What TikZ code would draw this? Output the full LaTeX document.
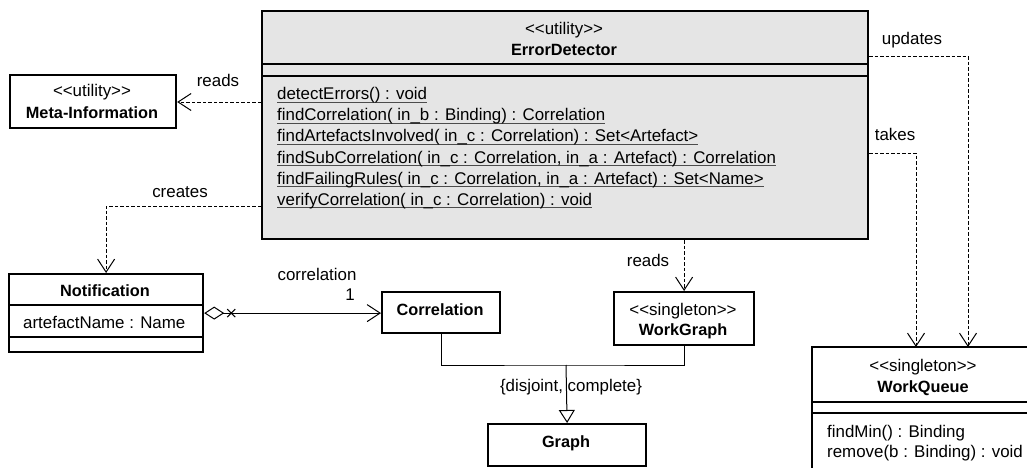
\documentclass[tikz,border=0pt]{standalone}
\usepackage{fontspec}
\setmainfont{Liberation Sans}
\usetikzlibrary{arrows.meta}
% stereotype brackets, kept apart so they stay two angle signs
\newcommand\stereo[1]{<{}<#1>{}>}
% underlined (static) operation
\newcommand\ulop[1]{\setbox0\hbox{#1}\rlap{\color{black!70}\vrule width\wd0 height -2.2pt depth 3.2pt}\box0}
\begin{document}
\begin{tikzpicture}[x=1pt,y=-1pt,
  font=\fontsize{16.9}{21}\selectfont,
  cls/.style={draw, line width=2.2pt, inner sep=0pt, anchor=north west},
  sep/.style={line width=1.4pt},
  txt/.style={inner sep=0pt, anchor=base},
  ltxt/.style={inner sep=0pt, anchor=base west},
  bold/.style={font=\fontsize{16.3}{21}\selectfont\bfseries},
  dep/.style={line width=0.9pt, dash pattern=on 3.5pt off 2pt,
    -{Straight Barb[length=13pt,width=17pt,line width=1pt]}},
  assoc/.style={line width=1pt},
  gen/.style={line width=1pt}
]
\useasboundingbox (0,0) rectangle (1027,468);
\clip (0,0) rectangle (1027,468);

% ---- ErrorDetector
\node[cls, fill=black!10, minimum width=606pt, minimum height=228pt] (ed) at (261,10) {};
\draw[sep] (ed.west |- 0,64) -- (ed.east |- 0,64);
\draw[sep] (ed.west |- 0,76) -- (ed.east |- 0,76);
\node[txt] (edst) at (564,35) {\stereo{utility}};
\node[txt, bold] (edname) at (564,56) {ErrorDetector};
\node[ltxt] (m1) at (277,100) {\ulop{detectErrors() : void}};
\node[ltxt] (m2) at (277,121) {\ulop{findCorrelation( in\_b : Binding) : Correlation}};
\node[ltxt] (m3) at (277,142) {\ulop{findArtefactsInvolved( in\_c : Correlation) : Set<Artefact>}};
\node[ltxt] (m4) at (277,163) {\ulop{findSubCorrelation( in\_c : Correlation,  in\_a : Artefact) : Correlation}};
\node[ltxt] (m5) at (277,184) {\ulop{findFailingRules( in\_c : Correlation,  in\_a : Artefact) : Set<Name>}};
\node[ltxt] (m6) at (277,205) {\ulop{verifyCorrelation( in\_c : Correlation) : void}};

% ---- Meta-Information
\node[cls, minimum width=166pt, minimum height=53pt] (meta) at (9,74) {};
\node[txt] (metast) at (92,97) {\stereo{utility}};
\node[txt, bold] (metaname) at (92,119) {Meta-Information};

% ---- Notification
\node[cls, minimum width=194pt, minimum height=78pt] (nt) at (8,273) {};
\draw[sep] (nt.west |- 0,305) -- (nt.east |- 0,305);
\draw[sep] (nt.west |- 0,337) -- (nt.east |- 0,337);
\node[txt, bold] (ntname) at (105,296) {Notification};
\node[ltxt] (ntattr) at (23,328) {artefactName : Name};

% ---- Correlation
\node[cls, minimum width=118pt, minimum height=41pt] (cor) at (381,291) {};
\node[txt, bold] (corname) at (440,315) {Correlation};

% ---- WorkGraph
\node[cls, minimum width=140pt, minimum height=53pt] (wg) at (613,291) {};
\node[txt] (wgst) at (683,315) {\stereo{singleton}};
\node[txt, bold] (wgname) at (683,335) {WorkGraph};

% ---- Graph
\node[cls, minimum width=158pt, minimum height=42pt] (gr) at (487,423) {};
\node[txt, bold] (grname) at (566,447) {Graph};

% ---- WorkQueue (runs past the right and bottom edges: only top and left sides show)
\node[cls, draw=none, minimum width=260pt, minimum height=140pt] (wq) at (812,347) {};
\draw[line width=2.2pt] (wq.south west) -- (wq.north west) -- (wq.north east);
\draw[sep] (wq.west |- 0,402) -- (wq.east |- 0,402);
\draw[sep] (wq.west |- 0,413) -- (wq.east |- 0,413);
\node[txt] (wqst) at (923,371) {\stereo{singleton}};
\node[txt, bold] (wqname) at (923,392) {WorkQueue};
\node[ltxt] (wq1) at (827,437) {findMin() : Binding};
\node[ltxt] (wq2) at (827,457) {remove(b : Binding) : void};

% ---- dependencies
\draw[dep] (ed.west |- 0,102) -- (meta.east |- 0,102);
\node[txt] (lreads1) at (218,87) {reads};
\draw[dep] (ed.west |- 0,206) -| (nt.north);
\node[txt] (lcreates) at (180,197) {creates};
\draw[dep] (ed.east |- 0,56) -| ([xshift=156pt]wq.north west);
\node[txt] (lupdates) at (912,45) {updates};
\draw[dep] (ed.east |- 0,153) -| ([xshift=104pt]wq.north west);
\node[txt] (ltakes) at (895,140) {takes};
\draw[dep] (wg.north |- ed.south) -- (wg.north);
\node[txt] (lreads2) at (648,266) {reads};

% ---- association Notification -> Correlation
\draw[assoc, {Diamond[open,length=20pt,width=13pt]}-{Straight Barb[length=13pt,width=17pt]}]
  (nt.east) -- (nt.east -| cor.west);
\coordinate (xm) at ([xshift=27pt]nt.east);
\draw[assoc] (xm) ++(-4,-4) -- ++(8,8) (xm) ++(-4,4) -- ++(8,-8);
\node[txt] (lcorr) at (317,280) {correlation};
\node[txt] (lmult) at (350,300) {1};

% ---- generalization
\coordinate (gj) at (566,365);
\draw[gen] (cor.south) |- (gj) -| (wg.south);
\draw[gen, -{Triangle[open,length=13pt,width=16pt]}] (gj) -- (gr.north);
\node[txt] (lgen) at (571,391) {\{disjoint, complete\}};
\end{tikzpicture}
\end{document}
